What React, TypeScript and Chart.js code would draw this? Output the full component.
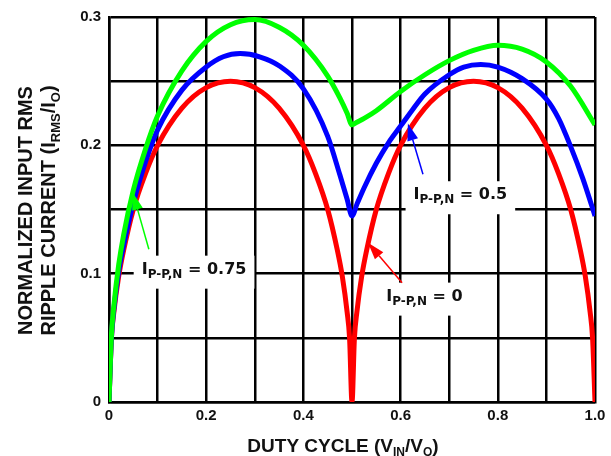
import React, { useEffect, useRef } from 'react';
import { Chart, registerables } from 'chart.js';

Chart.register(...registerables);

// I_P-P,N = 0 (red)
const dutyZero = [0, 0.005, 0.01, 0.02, 0.03, 0.05, 0.075, 0.1, 0.15, 0.2, 0.25, 0.3, 0.35, 0.4, 0.425, 0.45, 0.47, 0.48, 0.49, 0.495, 0.5, 0.505, 0.51, 0.52, 0.53, 0.55, 0.575, 0.6, 0.65, 0.7, 0.75, 0.8, 0.85, 0.9, 0.925, 0.95, 0.97, 0.98, 0.99, 0.995, 1.0];
const rippleZero = [0, 0.05, 0.07, 0.098, 0.118, 0.15, 0.178, 0.2, 0.229, 0.245, 0.25, 0.245, 0.229, 0.2, 0.178, 0.15, 0.118, 0.098, 0.07, 0.05, 0, 0.05, 0.07, 0.098, 0.118, 0.15, 0.178, 0.2, 0.229, 0.245, 0.25, 0.245, 0.229, 0.2, 0.178, 0.15, 0.118, 0.098, 0.07, 0.05, 0];

// I_P-P,N = 0.5 (blue)
const dutyHalf = [0, 0.005, 0.01, 0.02, 0.03, 0.05, 0.075, 0.1, 0.15, 0.2, 0.235, 0.27, 0.31, 0.35, 0.4, 0.45, 0.475, 0.49, 0.5, 0.51, 0.525, 0.55, 0.575, 0.6, 0.625, 0.65, 0.7, 0.73, 0.765, 0.8, 0.85, 0.9, 0.925, 0.95, 0.975, 1.0];
const rippleHalf = [0, 0.05, 0.072, 0.102, 0.122, 0.155, 0.187, 0.212, 0.243, 0.261, 0.269, 0.2715, 0.269, 0.262, 0.244, 0.207, 0.177, 0.158, 0.145, 0.154, 0.167, 0.186, 0.202, 0.215, 0.228, 0.24, 0.255, 0.261, 0.263, 0.261, 0.252, 0.236, 0.221, 0.199, 0.174, 0.145];

// I_P-P,N = 0.75 (green)
const dutyThreeQuarter = [0, 0.005, 0.01, 0.02, 0.03, 0.05, 0.075, 0.1, 0.15, 0.2, 0.25, 0.3, 0.35, 0.4, 0.45, 0.475, 0.49, 0.5, 0.51, 0.525, 0.55, 0.6, 0.65, 0.7, 0.75, 0.8, 0.85, 0.9, 0.95, 1.0];
const rippleThreeQuarter = [0, 0.052, 0.075, 0.107, 0.13, 0.165, 0.197, 0.223, 0.258, 0.281, 0.294, 0.298, 0.292, 0.278, 0.254, 0.237, 0.225, 0.216, 0.218, 0.221, 0.227, 0.242, 0.255, 0.266, 0.274, 0.278, 0.275, 0.265, 0.246, 0.216];

const xTickLabels = ['0', '', '0.2', '', '0.4', '', '0.6', '', '0.8', '', '1.0'];
const yTickLabels = ['0', '', '0.1', '', '0.2', '', '0.3'];

const seriesLabels = ['0.75', '0.5', '0'];
const seriesColors = ['#00ff00', '#0000ff', '#ff0000'];

// annotation anchors in data units: text centre/baseline, arrow tail, arrow tip
const labelAnchors = [
  { x: 0.175, y: 0.1, tail: [0.082, 0.119], tip: [0.049, 0.163] },
  { x: 0.723, y: 0.158, tail: [0.646, 0.1775], tip: [0.615, 0.217] },
  { x: 0.649, y: 0.079, tail: [0.603, 0.093], tip: [0.533, 0.124] },
];

type Part = { t: string; sub?: boolean };

const SANS = '"Liberation Sans", Arial, sans-serif';
const VERD = '"DejaVu Sans", Verdana, sans-serif';

function drawRich(ctx: CanvasRenderingContext2D, parts: Part[], cx: number, baseline: number, size: number, subSize: number, subShift: number, family: string) {
  const widths = parts.map((p) => {
    ctx.font = `bold ${p.sub ? subSize : size}px ${family}`;
    return ctx.measureText(p.t).width;
  });
  const total = widths.reduce((a, b) => a + b, 0);
  let x = cx - total / 2;
  ctx.textAlign = 'left';
  ctx.textBaseline = 'alphabetic';
  parts.forEach((p, i) => {
    ctx.font = `bold ${p.sub ? subSize : size}px ${family}`;
    ctx.fillText(p.t, x, baseline + (p.sub ? subShift : 0));
    x += widths[i];
  });
  return total;
}

function measureRich(ctx: CanvasRenderingContext2D, parts: Part[], size: number, subSize: number, family: string) {
  return parts.reduce((acc, p) => {
    ctx.font = `bold ${p.sub ? subSize : size}px ${family}`;
    return acc + ctx.measureText(p.t).width;
  }, 0);
}

const decorPlugin = {
  id: 'decor',
  afterDatasetsDraw(chart: any) {
    const ctx: CanvasRenderingContext2D = chart.ctx;
    const xs = chart.scales.x;
    const ys = chart.scales.y;
    ctx.save();
    labelAnchors.forEach((a, i) => {
      const parts: Part[] = [{ t: 'I' }, { t: 'P-P,N', sub: true }, { t: ' = ' + seriesLabels[i] }];
      const px = xs.getPixelForValue(a.x);
      const py = ys.getPixelForValue(a.y);
      const w = measureRich(ctx, parts, 16, 12, VERD);
      ctx.fillStyle = '#ffffff';
      ctx.fillRect(px - w / 2 - 8, py - 18, w + 16, 33);
      ctx.fillStyle = '#111111';
      drawRich(ctx, parts, px, py, 16, 12, 4, VERD);
      // arrow
      const tx = xs.getPixelForValue(a.tail[0]);
      const ty = ys.getPixelForValue(a.tail[1]);
      const hx = xs.getPixelForValue(a.tip[0]);
      const hy = ys.getPixelForValue(a.tip[1]);
      const ang = Math.atan2(hy - ty, hx - tx);
      const len = 17;
      const half = 5.5;
      const bx = hx - Math.cos(ang) * len;
      const by = hy - Math.sin(ang) * len;
      ctx.strokeStyle = seriesColors[i];
      ctx.lineWidth = 1.5;
      ctx.beginPath();
      ctx.moveTo(tx, ty);
      ctx.lineTo(bx, by);
      ctx.stroke();
      ctx.fillStyle = seriesColors[i];
      ctx.beginPath();
      ctx.moveTo(hx, hy);
      ctx.lineTo(bx + Math.sin(ang) * half, by - Math.cos(ang) * half);
      ctx.lineTo(bx - Math.sin(ang) * half, by + Math.cos(ang) * half);
      ctx.closePath();
      ctx.fill();
    });
    ctx.restore();
  },
  afterDraw(chart: any) {
    const ctx: CanvasRenderingContext2D = chart.ctx;
    const area = chart.chartArea;
    ctx.save();
    ctx.fillStyle = '#111111';
    // x title
    drawRich(
      ctx,
      [{ t: 'DUTY CYCLE (V' }, { t: 'IN', sub: true }, { t: '/V' }, { t: 'O', sub: true }, { t: ')' }],
      (area.left + area.right) / 2 - 9,
      area.bottom + 50,
      19, 12, 4, SANS
    );
    // y title (two lines, rotated)
    const cy = (area.top + area.bottom) / 2 + 1;
    ctx.save();
    ctx.translate(32, cy);
    ctx.rotate(-Math.PI / 2);
    drawRich(ctx, [{ t: 'NORMALIZED INPUT RMS' }], 0, 0, 20, 13, 5, SANS);
    ctx.restore();
    ctx.save();
    ctx.translate(55, cy);
    ctx.rotate(-Math.PI / 2);
    drawRich(
      ctx,
      [{ t: 'RIPPLE CURRENT (I' }, { t: 'RMS', sub: true }, { t: '/I' }, { t: 'O', sub: true }, { t: ')' }],
      0, 0, 20, 13, 5, SANS
    );
    ctx.restore();
    ctx.restore();
  },
};

export default function App() {
  const ref = useRef<HTMLCanvasElement | null>(null);

  useEffect(() => {
    document.body.style.margin = '0';
    const canvas = ref.current;
    if (!canvas) return;
    const mk = (xs: number[], ys: number[]) => xs.map((x, i) => ({ x, y: ys[i] }));
    const chart = new Chart(canvas, {
      type: 'line',
      data: {
        datasets: [
          { label: 'I_P-P,N = ' + seriesLabels[0], data: mk(dutyThreeQuarter, rippleThreeQuarter), borderColor: seriesColors[0] },
          { label: 'I_P-P,N = ' + seriesLabels[1], data: mk(dutyHalf, rippleHalf), borderColor: seriesColors[1] },
          { label: 'I_P-P,N = ' + seriesLabels[2], data: mk(dutyZero, rippleZero), borderColor: seriesColors[2] },
        ].map((d) => ({
          ...d,
          borderWidth: 5,
          pointRadius: 0,
          fill: false,
          cubicInterpolationMode: 'monotone' as const,
          borderJoinStyle: 'round' as const,
          borderCapStyle: 'butt' as const,
        })),
      },
      options: {
        animation: false,
        responsive: false,
        devicePixelRatio: 1,
        layout: { padding: { top: 15, right: 16, left: 0, bottom: 0 } },
        plugins: { legend: { display: false }, tooltip: { enabled: false } },
        scales: {
          x: {
            type: 'linear',
            min: 0,
            max: 1,
            afterFit: (s: any) => { s.height = 54; },
            ticks: {
              stepSize: 0.1,
              autoSkip: false,
              maxRotation: 0,
              padding: 5,
              color: '#111111',
              font: { family: SANS, size: 15, weight: 'bold' },
              callback: (_v: any, i: number) => xTickLabels[i] ?? '',
            },
            grid: { color: '#000000', lineWidth: 2.5, drawTicks: false },
            border: { display: true, color: '#000000', width: 2.5 },
          },
          y: {
            type: 'linear',
            min: 0,
            max: 0.3,
            afterFit: (s: any) => { s.width = 109; },
            ticks: {
              stepSize: 0.05,
              autoSkip: false,
              padding: 8,
              color: '#111111',
              font: { family: SANS, size: 15, weight: 'bold' },
              callback: (_v: any, i: number) => yTickLabels[i] ?? '',
            },
            grid: { color: '#000000', lineWidth: 2.5, drawTicks: false },
            border: { display: true, color: '#000000', width: 2.5 },
          },
        },
      },
      plugins: [decorPlugin],
    } as any);
    return () => chart.destroy();
  }, []);

  return (
    <div style={{ width: 611, height: 456, background: '#ffffff' }}>
      <canvas ref={ref} width={611} height={456} />
    </div>
  );
}
